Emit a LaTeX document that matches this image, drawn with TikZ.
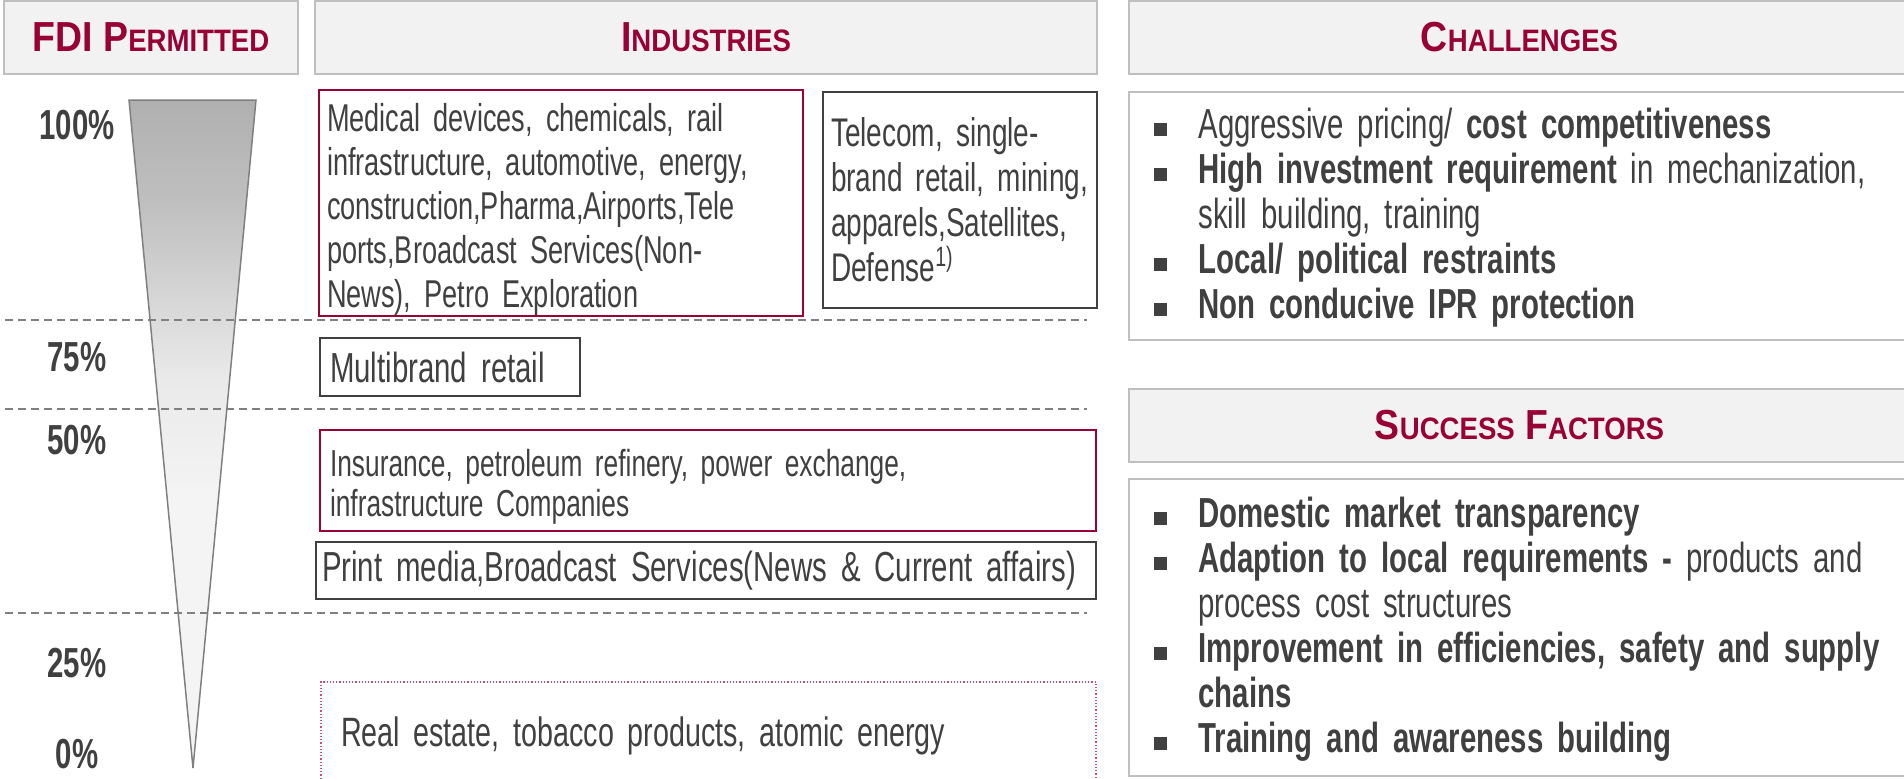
\documentclass[tikz,border=0pt]{standalone}
\usepackage{fontspec}
\setmainfont[FakeStretch=0.70, WordSpace=0.75]{Liberation Sans}
\newfontfamily\hdrfont[FakeStretch=0.89]{Liberation Sans}
\usepackage{xcolor}
\usetikzlibrary{positioning}
\definecolor{fdi-red}{RGB}{153,0,51}
\definecolor{fdi-dots}{RGB}{196,80,116}
\definecolor{fdi-text}{RGB}{64,64,64}
\definecolor{fdi-hdr}{RGB}{242,242,242}
\definecolor{fdi-rule}{RGB}{191,191,191}
\definecolor{fdi-dash}{RGB}{128,128,128}
\definecolor{fdi-f0}{RGB}{126,126,126}
\definecolor{fdi-f1}{RGB}{192,192,192}
\definecolor{fdi-f2}{RGB}{234,234,234}
\definecolor{fdi-f3}{RGB}{244,244,244}
% funnel fill, dark at the wide end
\pgfdeclareverticalshading{fdi@funnel}{100bp}{color(0bp)=(fdi-f3); color(45bp)=(fdi-f3);
  color(54bp)=(fdi-f2); color(67bp)=(fdi-f1); color(100bp)=(fdi-f0)}
% header words: first letter large, rest as small capitals
\newcommand{\hcap}[2]{#1{\fontsize{15.5}{16}\selectfont#2}}
\newcommand{\fdibullet}{\makebox[22pt][l]{\textcolor{fdi-text}{\rule[1pt]{6.5pt}{6.5pt}}}}
\newcommand{\fdiitem}[1]{\par\noindent\hangindent=22pt\hangafter=1\fdibullet#1}
\hyphenpenalty=10000
\tikzset{
  fdi@hdr/.style={
    draw=fdi-rule, fill=fdi-hdr, line width=1pt, inner sep=0pt, outer sep=0pt,
    minimum height=36.5pt, text=fdi-red, font=\hdrfont\bfseries\fontsize{21}{24}\selectfont
  },
  fdi@panel/.style={
    draw=fdi-rule, fill=white, line width=1pt, inner sep=0pt, outer sep=0pt,
    minimum width=390.5pt
  },
  fdi@red/.style={
    draw=fdi-red, line width=1pt, inner xsep=5pt, inner ysep=0pt, outer sep=0pt,
    align=left, text=fdi-text
  },
  fdi@dark/.style={
    draw=fdi-text, line width=1pt, inner xsep=5pt, inner ysep=0pt, outer sep=0pt,
    align=left, text=fdi-text
  },
  fdi@none/.style={
    draw=fdi-dots, line width=0.6pt, densely dotted, inner xsep=10pt, inner ysep=0pt,
    outer sep=0pt, align=left, text=fdi-text
  },
  fdi@pct/.style={text=fdi-text, font=\bfseries\fontsize{21}{22}\selectfont},
  fdi@level/.style={draw=fdi-dash, line width=0.75pt, dash pattern=on 4pt off 2.5pt},
  fdi@list/.style={
    anchor=north west, inner sep=0pt, text width=372pt, align=left, text=fdi-text,
    font=\fontsize{21}{22.5}\selectfont
  },
}

\begin{document}
\begin{tikzpicture}[x=0.5pt, y=-0.5pt]
  \fill[white] (0,0) rectangle (1904,778);
  \useasboundingbox (0,0) rectangle (1904,778);

  % column headers
  \node[fdi@hdr, minimum width=147pt] (fdi) at (151,37.5) {\hcap{FDI P}{ERMITTED}};
  \node[fdi@hdr, minimum width=391pt, right=8.5pt of fdi] (ind) {\hcap{I}{NDUSTRIES}};
  \node[fdi@hdr, minimum width=390.5pt, right=16pt of ind] (chal) {\hcap{C}{HALLENGES}};
  \node[fdi@panel, minimum height=124pt, below=9pt of chal] (chalbody) {};
  \node[fdi@hdr, minimum width=390.5pt, below=24.5pt of chalbody] (succ) {\hcap{S}{UCCESS} \hcap{F}{ACTORS}};
  \node[fdi@panel, minimum height=148.5pt, below=8.5pt of succ] (succbody) {};

  % funnel
  \shadedraw[shading=fdi@funnel, draw=fdi-dash, line width=0.75pt]
    (129,100) -- (256,100) -- (193,768) -- cycle;

  % level lines
  \foreach \y in {320,409,613}
    \draw[fdi@level] (5,\y) -- (1087,\y);

  % percentages
  \node[fdi@pct] (p100) at (77,125) {100\%};
  \node[fdi@pct] (p75)  at (77,357) {75\%};
  \node[fdi@pct] (p50)  at (77,440) {50\%};
  \node[fdi@pct] (p25)  at (77,663) {25\%};
  \node[fdi@pct] (p0)   at (77,754) {0\%};

  % industries by FDI cap
  \node[fdi@red, font=\fontsize{19.4}{22}\selectfont, text width=234pt, inner xsep=4pt, minimum height=110pt]
    (med) at (561,203) {\rule{0pt}{21pt}Medical devices, chemicals, rail\\infrastructure, automotive, energy,\\
    construction,Pharma,Airports,Tele\\ports,Broadcast Services(Non-\\News), Petro Exploration};
  \node[fdi@dark, font=\fontsize{20}{22.5}\selectfont, inner xsep=4pt, text width=129pt, minimum height=108pt]
    (tel) at (960,200) {Telecom, single-\\brand retail, mining,\\apparels,Satellites,\\Defense\textsuperscript{1)}};
  \node[fdi@dark, font=\fontsize{21}{22}\selectfont, text width=120pt, minimum height=29pt]
    (multi) at (450,367) {Multibrand retail};
  \node[fdi@red, font=\fontsize{18.8}{19.8}\selectfont, text width=378pt, minimum height=50.5pt]
    (ins) at (708,480.5) {\rule{0pt}{19.7pt}Insurance, petroleum refinery, power exchange,\\infrastructure Companies};
  \node[fdi@dark, font=\fontsize{21}{22}\selectfont, inner xsep=3pt, text width=384pt, minimum height=28.5pt]
    (prt) at (706,570.5) {Print media,Broadcast Services(News \& Current affairs)};
  \node[fdi@none, font=\fontsize{20.5}{22}\selectfont, text width=367.5pt, minimum height=54pt]
    (real) at (708.5,736) {Real estate, tobacco products, atomic energy};

  % bullet lists
  \node[fdi@list] (chalitems) at (1154,93) {%
    \fdiitem{Aggressive pricing/ \textbf{cost competitiveness}}%
    \fdiitem{\textbf{High investment requirement} in mechanization,\newline skill building, training}%
    \fdiitem{\textbf{Local/ political restraints}}%
    \fdiitem{\textbf{Non conducive IPR protection}}};
  \node[fdi@list] (succitems) at (1154,482) {%
    \fdiitem{\textbf{Domestic market transparency}}%
    \fdiitem{\textbf{Adaption to local requirements -} products and\newline process cost structures}%
    \fdiitem{\textbf{Improvement in efficiencies, safety and supply\newline chains}}%
    \fdiitem{\textbf{Training and awareness building}}};
\end{tikzpicture}
\end{document}
